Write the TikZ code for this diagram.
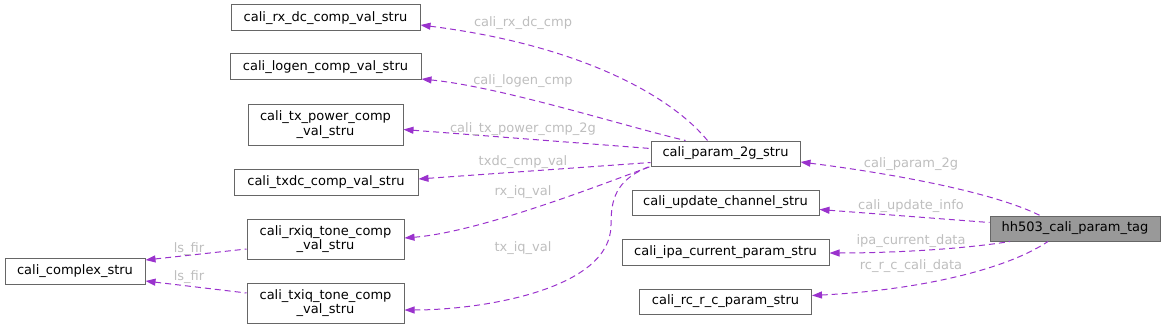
\documentclass[tikz,border=0pt]{standalone}
\usepackage{fontspec}
\setmainfont{DejaVu Sans}
\usetikzlibrary{arrows.meta}
\definecolor{kantenfarbe}{HTML}{9A32CD}
\definecolor{rahmen}{HTML}{666666}
\definecolor{beschr}{HTML}{BEBEBE}
\definecolor{haupt}{HTML}{999999}

\begin{document}
\begin{tikzpicture}
    [
    x=1pt, y=-1pt, font=\fontsize{13}{14.5}\selectfont,
    >={Triangle[length=10pt,width=7pt]},
    box/.style={draw=rahmen, fill=white, line width=1pt, align=center, minimum height=26pt, inner sep=2pt},
    kante/.style={draw=kantenfarbe, line width=1pt, dash pattern=on 6pt off 4pt, <-},
    lbl/.style={text=beschr, inner sep=0pt}
    %Kanten zeigen auf die enthaltene Struktur
    ]
    
    %Rahmen
    \useasboundingbox (0,0) rectangle (1165,329);
    
    %Knoten links
    \node[box, minimum width=189pt] (rxdc) at (325.5,18) {cali\_rx\_dc\_comp\_val\_stru};
    \node[box, minimum width=191pt] (logen) at (325.5,67) {cali\_logen\_comp\_val\_stru};
    \node[box, minimum width=155pt, minimum height=41pt] (txpow) at (325.5,124.5) {cali\_tx\_power\_comp\\\_val\_stru};
    \node[box, minimum width=184pt] (txdc) at (326,182) {cali\_txdc\_comp\_val\_stru};
    \node[box, minimum width=157pt, minimum height=40pt] (rxiq) at (325.5,239) {cali\_rxiq\_tone\_comp\\\_val\_stru};
    \node[box, minimum width=157pt, minimum height=40pt] (txiq) at (325.5,303) {cali\_txiq\_tone\_comp\\\_val\_stru};
    \node[box, minimum width=140pt] (complex) at (75,271) {cali\_complex\_stru};
    
    %Knoten Mitte
    \node[box, minimum width=149pt, minimum height=25pt] (p2g) at (725.5,153.5) {cali\_param\_2g\_stru};
    \node[box, minimum width=187pt, minimum height=25pt] (upd) at (725.5,202.5) {cali\_update\_channel\_stru};
    \node[box, minimum width=207pt] (ipa) at (725.5,252) {cali\_ipa\_current\_param\_stru};
    \node[box, minimum width=172pt, minimum height=25pt] (rc) at (725.5,301.5) {cali\_rc\_r\_c\_param\_stru};
    
    %Hauptknoten
    \node[box, fill=haupt, minimum width=170pt, minimum height=25pt] (tag) at (1075,228.5) {hh503\_cali\_param\_tag};
    
    %Kanten von cali_param_2g_stru
    \draw[kante] ([yshift=-7pt]rxdc.east) .. controls +(159,20) and +(-37,-45) .. ([xshift=-18pt]p2g.north);
    \draw[kante] ([yshift=-12pt]logen.east) .. controls +(80,8) and +(-60,-14) .. ([xshift=-40pt]p2g.north);
    \draw[kante] ([yshift=-5pt]txpow.east) -- ([yshift=5pt]p2g.west);
    \draw[kante] ([yshift=3pt]txdc.east) -- ([yshift=-9pt]p2g.west);
    \draw[kante] ([yshift=1pt]rxiq.east) .. controls (480,232) and (600,185) .. (p2g.south west);
    \draw[kante] ([yshift=-7pt]txiq.east) .. controls (480,310) and (611,290) .. (611,225)
        .. controls (611,200) and (615,180) .. ([xshift=-1pt]p2g.south west);
    
    %Kanten zu cali_complex_stru
    \draw[kante] ([yshift=11pt]complex.east) -- ([yshift=-10pt]rxiq.west);
    \draw[kante] ([yshift=-10pt]complex.east) -- ([yshift=10pt]txiq.west);
    
    %Kanten von hh503_cali_param_tag
    \draw[kante] ([yshift=-8.5pt]p2g.east) .. controls +(80,10) and +(-50,-25) .. ([xshift=-35pt]tag.north);
    \draw[kante] ([yshift=-7pt]upd.east) -- ([yshift=6pt]tag.west);
    \draw[kante] ([yshift=-1pt]ipa.east) .. controls +(60,0) and +(-50,8) .. ([xshift=-65pt]tag.south);
    \draw[kante] ([yshift=6pt]rc.east) .. controls +(100,-5) and +(-45,30) .. ([xshift=-27pt]tag.south);
    
    %Beschriftungen
    \node[lbl] (l-rxdc) at (523,23) {cali\_rx\_dc\_cmp};
    \node[lbl] (l-logen) at (523,81) {cali\_logen\_cmp};
    \node[lbl] (l-txpow) at (523,129) {cali\_tx\_power\_cmp\_2g};
    \node[lbl] (l-txdc) at (523,162) {txdc\_cmp\_val};
    \node[lbl] (l-rxiq) at (523,192) {rx\_iq\_val};
    \node[lbl] (l-txiq) at (523,248) {tx\_iq\_val};
    \node[lbl] (l-fir1) at (189,249) {ls\_fir};
    \node[lbl] (l-fir2) at (189,277) {ls\_fir};
    \node[lbl] (l-p2g) at (911,164) {cali\_param\_2g};
    \node[lbl] (l-upd) at (911,206) {cali\_update\_info};
    \node[lbl] (l-ipa) at (911,241) {ipa\_current\_data};
    \node[lbl] (l-rc) at (911,266) {rc\_r\_c\_cali\_data};
\end{tikzpicture}
\end{document}
